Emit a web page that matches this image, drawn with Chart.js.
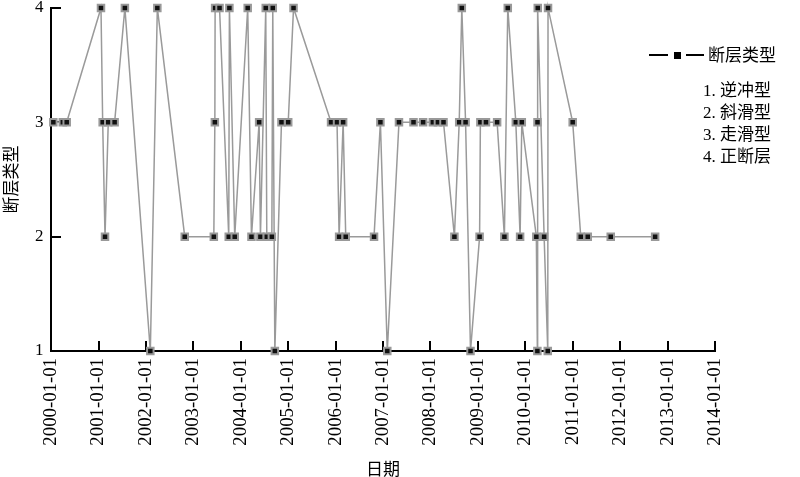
<!DOCTYPE html>
<html>
<head>
<meta charset="utf-8">
<script src="https://cdn.jsdelivr.net/npm/chart.js@4"></script>
<style>
  html, body { margin: 0; padding: 0; background: #fff; }
  #wrap { width: 800px; height: 477px; }
</style>
</head>
<body>
<div id="wrap"><canvas id="myChart" width="800" height="477"></canvas></div>
<script>
// fault events: date + type (1..4)
const dates = ['2000-01-19','2000-04-01','2000-05-01','2001-01-20','2001-02-02','2001-02-20','2001-03-17','2001-05-05','2001-07-23','2002-02-04',
  '2002-03-30','2002-10-27','2003-06-08','2003-06-16','2003-06-18','2003-07-22','2003-10-01','2003-10-06','2003-11-16','2004-02-24',
  '2004-03-24','2004-05-22','2004-06-01','2004-07-12','2004-07-20','2004-08-28','2004-09-04','2004-09-20','2004-11-10','2005-01-01',
  '2005-02-11','2005-11-27','2006-01-12','2006-01-28','2006-02-28','2006-03-20','2006-10-24','2006-12-12','2007-02-03','2007-05-04',
  '2007-08-24','2007-11-06','2008-01-20','2008-02-28','2008-04-11','2008-07-04','2008-08-10','2008-08-30','2008-09-28','2008-11-05',
  '2009-01-14','2009-01-20','2009-03-04','2009-05-29','2009-07-24','2009-08-19','2009-10-20','2009-11-22','2009-12-05','2010-03-27',
  '2010-04-04','2010-04-05','2010-04-07','2010-05-26','2010-06-23','2010-06-25','2011-01-01','2011-03-04','2011-04-27','2011-10-21',
  '2012-09-27']
const types = [3,3,3,4,3,2,3,3,4,1,
  4,2,2,3,4,4,2,4,2,4,
  2,3,2,4,2,2,4,1,3,3,
  4,3,3,2,3,2,2,3,1,3,
  3,3,3,3,3,2,3,4,3,1,
  2,3,3,3,2,4,3,2,3,2,
  1,3,4,2,1,4,3,2,2,2,
  2]
const xTickLabels = ['2000-01-01','2001-01-01','2002-01-01','2003-01-01','2004-01-01','2005-01-01','2006-01-01',
  '2007-01-01','2008-01-01','2009-01-01','2010-01-01','2011-01-01','2012-01-01','2013-01-01','2014-01-01']
const yTicks = [1, 2, 3, 4]
const seriesName = '断层类型'
const typeNames = ['1. 逆冲型', '2. 斜滑型', '3. 走滑型', '4. 正断层']

const serif = 'Liberation Serif, Times New Roman, Noto Sans CJK SC, serif'
const cjk = 'Noto Sans CJK SC, sans-serif'

var data = dates.map(function (d, i) { return {x: Date.parse(d), y: types[i]} })
const xTickValues = xTickLabels.map(function (s) { return Date.parse(s) })

// inward tick marks, drawn before the points
const innerTicks = {
  id: 'innerTicks',
  beforeDatasetsDraw: function (chart) {
    const ctx = chart.ctx
    const xs = chart.scales.x, ys = chart.scales.y
    ctx.save()
    ctx.strokeStyle = '#000'
    ctx.lineWidth = 2
    ctx.beginPath()
    xTickValues.forEach(function (v, i) {
      if (i == 0) return
      const px = Math.round(xs.getPixelForValue(v))
      ctx.moveTo(px, ys.bottom)
      ctx.lineTo(px, ys.bottom - 10)
    })
    yTicks.forEach(function (v, i) {
      if (i == 0) return
      const py = Math.round(ys.getPixelForValue(v))
      ctx.moveTo(xs.left, py)
      ctx.lineTo(xs.left + 10, py)
    })
    ctx.stroke()
    ctx.restore()
  }
}

// legend: line-square-line symbol + name, then list of type meanings
const customLegend = {
  id: 'customLegend',
  afterDraw: function (chart) {
    const ctx = chart.ctx
    ctx.save()
    ctx.strokeStyle = '#000'
    ctx.lineWidth = 2
    ctx.beginPath()
    ctx.moveTo(649, 55); ctx.lineTo(668, 55)
    ctx.moveTo(686, 55); ctx.lineTo(704, 55)
    ctx.stroke()
    ctx.fillStyle = '#000'
    ctx.fillRect(674, 52, 7, 7)
    ctx.textBaseline = 'middle'
    ctx.textAlign = 'left'
    ctx.font = '17px ' + cjk
    ctx.fillText(seriesName, 708, 55)
    ctx.font = '17px ' + serif
    typeNames.forEach(function (t, i) {
      ctx.fillText(t, 703, 92 + i * 21.8)
    })
    ctx.restore()
  }
}

const ctx = document.getElementById('myChart');
let myChart = new Chart(ctx, {
    type: 'line',
    data: {
      datasets: [{
        label: seriesName,
        data: data,
        borderColor: '#9a9a9a',
        borderWidth: 1.5,
        backgroundColor: '#111',
        pointStyle: 'rect',
        pointRadius: 4.6,
        pointBorderWidth: 2,
        pointBorderColor: '#999',
        pointBackgroundColor: '#111',
        tension: 0,
        clip: false
      }]
    },
    plugins: [innerTicks, customLegend],
    options: {
        responsive: false,
        animation: false,
        layout: { padding: { top: 0, right: 85, left: 0, bottom: 0 } },
        plugins: {
            legend: { display: false },
            tooltip: { enabled: false }
        },
        scales: {
            x: {
                type: 'linear',
                min: xTickValues[0],
                max: xTickValues[xTickValues.length - 1],
                afterBuildTicks: function (scale) {
                    scale.ticks = xTickValues.map(function (v) { return {value: v} })
                },
                afterFit: function (scale) { scale.height = 126 },
                ticks: {
                    autoSkip: false,
                    minRotation: 90,
                    maxRotation: 90,
                    padding: 7,
                    color: '#000',
                    font: { family: serif, size: 18.8 },
                    callback: function (v) {
                        const i = xTickValues.indexOf(v)
                        return i >= 0 ? xTickLabels[i] : ''
                    }
                },
                grid: { drawOnChartArea: false, drawTicks: false },
                border: { color: '#000', width: 2 },
                title: {
                    display: true,
                    text: '日期',
                    color: '#000',
                    font: { family: cjk, size: 17, lineHeight: 1 },
                    padding: { top: 0, bottom: 0 }
                }
            },
            y: {
                min: 1,
                max: 4,
                afterBuildTicks: function (scale) {
                    scale.ticks = yTicks.map(function (v) { return {value: v} })
                },
                afterFit: function (scale) { scale.width = 51 },
                ticks: {
                    padding: 7.5,
                    color: '#000',
                    font: { family: serif, size: 17, lineHeight: 0.05 }
                },
                grid: { drawOnChartArea: false, drawTicks: false },
                border: { color: '#000', width: 2 },
                title: {
                    display: true,
                    text: seriesName,
                    color: '#000',
                    font: { family: cjk, size: 17 },
                    padding: { top: 0, bottom: 0 }
                }
            }
        }
    }
})
</script>
</body>
</html>
